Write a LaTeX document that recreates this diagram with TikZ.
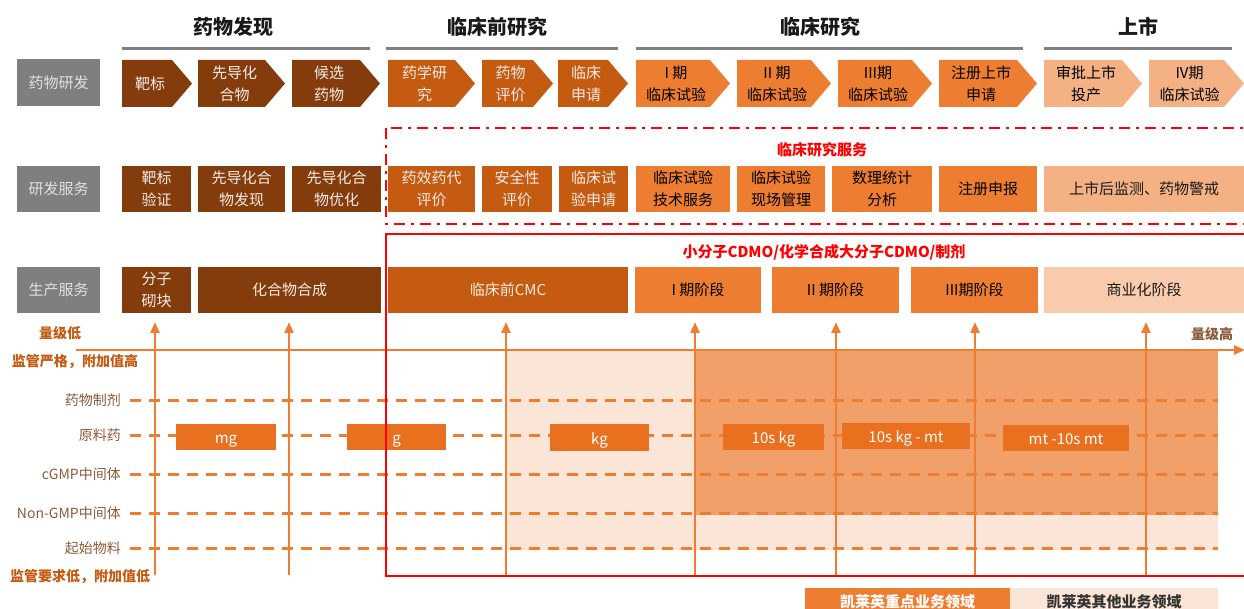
\documentclass[tikz,border=0pt]{standalone}
\usepackage{fontspec}
\setmainfont{Noto Sans CJK SC}
\usetikzlibrary{arrows.meta}
\definecolor{cBrown}{HTML}{843C0C}
\definecolor{cMid}{HTML}{C55A11}
\definecolor{cOrange}{HTML}{ED7D31}
\definecolor{cPeach}{HTML}{F4B183}
\definecolor{cPeachL}{HTML}{F8CBAD}
\definecolor{cGray}{HTML}{7F7F7F}
\definecolor{cShadeL}{HTML}{FBE5D6}
\definecolor{cShadeD}{HTML}{F1A06A}
\definecolor{cUnit}{HTML}{E8701E}
\definecolor{cLabel}{HTML}{8A5A3A}
\definecolor{cWarm}{HTML}{C55A11}
\definecolor{cWhiteT}{HTML}{F5ECE6}
\newcommand\mkbox[7]{\node[boxbase,#6,minimum width={#4-#2},minimum height={#5-#3},anchor=north west] (#1) at (#2,#3) {#7};}
\newcommand\mkchev[6]{%
  \fill[#4] (#2,60) -- ({#3-20},60) -- (#3,83.5) -- ({#3-20},107) -- (#2,107) -- cycle;
  \node[boxbase,text=#5] (#1) at ({(#2+#3-14)/2},83.5) {#6};}
\tikzset{
  boxbase/.style={inner sep=0pt,outer sep=0pt,align=center,font=\fontsize{15}{22}\selectfont},
  graybox/.style={fill=cGray,text=white!88!black},
  brownbox/.style={fill=cBrown,text=cWhiteT},
  midbox/.style={fill=cMid,text=cWhiteT},
  orangebox/.style={fill=cOrange,text=black},
  peachbox/.style={fill=cPeach,text=black!90},
  peachlbox/.style={fill=cPeachL,text=black!90},
  unitbox/.style={fill=cUnit,text=white,text height=13pt,text depth=0pt,font=\fontsize{15}{18}\selectfont},
  header/.style={font=\fontsize{20}{24}\selectfont\bfseries,text=black!90},
  hline/.style={draw=cGray,line width=3pt},
  rowlab/.style={anchor=east,inner sep=0pt,text=cLabel,font=\fontsize{14}{16}\selectfont},
  warmlab/.style={inner sep=0pt,text=cWarm,font=\fontsize{14}{16}\selectfont\bfseries},
  redlab/.style={inner sep=0pt,text=red,font=\fontsize{15}{18}\selectfont\bfseries},
  dashline/.style={draw=cOrange,line width=3pt,dash pattern=on 11pt off 8pt},
  varrow/.style={draw=cOrange,line width=2.5pt,-{Triangle[length=11pt,width=9pt]}},
  redbox/.style={draw=red,line width=2.5pt},
  reddash/.style={draw=red,line width=2.5pt,dash pattern=on 11pt off 6pt on 3pt off 6pt},
}
\begin{document}
\begin{tikzpicture}[x=1pt,y=-1pt]
\useasboundingbox (0,0) rectangle (1244,609);
% shaded areas
\fill[cShadeL] (506,350) rectangle (1218,550);
\fill[cShadeD] (695,350) rectangle (1218,515);
% dashed grade lines and labels
\foreach \n/\y/\t in {d1/400/药物制剂,d2/435/原料药,d3/474/cGMP中间体,d4/513/Non-GMP中间体,d5/548/起始物料}{
  \coordinate (\n a) at (130,\y);
  \coordinate (\n b) at (1218,\y);
  \draw[dashline] (\n a) -- (\n b);
  \node[rowlab] (\n l) at (121,\y) {\t};
}
% unit boxes
\mkbox{u1}{176}{424}{276}{450}{unitbox}{mg}
\mkbox{u2}{347}{424}{446}{450}{unitbox}{g}
\mkbox{u3}{550}{424}{649}{451}{unitbox}{kg}
\mkbox{u4}{723}{424}{824}{450}{unitbox}{10s kg}
\mkbox{u5}{842}{423}{970}{449}{unitbox}{10s kg - mt}
\mkbox{u6}{1003}{425}{1129}{451}{unitbox}{mt -10s mt}
% vertical arrows
\foreach \i/\x in {1/155,2/289,3/506,4/695,5/836,6/975,7/1146}{
  \coordinate (v\i b) at (\x,575);
  \coordinate (v\i t) at (\x,322);
  \draw[varrow] (v\i b) -- (v\i t);
}
% horizontal axis
\coordinate (ax0) at (76,350);
\coordinate (ax1) at (1245,350);
\draw[varrow] (ax0) -- (ax1);
\node[warmlab] (q1) at (60,333) {量级低};
\node[warmlab] (q2) at (75,362) {监管严格，附加值高};
\node[warmlab] (q3) at (80,577) {监管要求低，附加值低};
\node[warmlab,text=cLabel] (q4) at (1212,334) {量级高};
% red frames
\coordinate (rd1) at (386,128);
\coordinate (rd2) at (1260,224);
\draw[reddash] (rd1) rectangle (rd2);
\coordinate (rs1) at (386,234);
\coordinate (rs2) at (1260,576);
\draw[redbox] (rs1) rectangle (rs2);
\node[redlab] (t1) at (822,150) {临床研究服务};
\node[redlab] (t2) at (824,252) {小分子CDMO/化学合成大分子CDMO/制剂};
% headers
\node[header] (h1) at (233,27) {药物发现};
\node[header] (h2) at (497,27) {临床前研究};
\node[header] (h3) at (820,27) {临床研究};
\node[header] (h4) at (1138,27) {上市};
\draw[hline] (122,49) -- (370,49);
\draw[hline] (386,49) -- (618,49);
\draw[hline] (636,49) -- (1023,49);
\draw[hline] (1044,49) -- (1232,49);
% row labels
\mkbox{g1}{17}{59}{100}{106}{graybox}{药物研发}
\mkbox{g2}{17}{166}{100}{212}{graybox}{研发服务}
\mkbox{g3}{17}{267}{100}{313}{graybox}{生产服务}
% row 1 chevrons
\mkchev{c1}{122}{192}{cBrown}{cWhiteT}{靶标}
\mkchev{c2}{198}{285}{cBrown}{cWhiteT}{先导化\\合物}
\mkchev{c3}{292}{380}{cBrown}{cWhiteT}{候选\\药物}
\mkchev{c4}{388}{475}{cMid}{cWhiteT}{药学研\\究}
\mkchev{c5}{482}{553}{cMid}{cWhiteT}{药物\\评价}
\mkchev{c6}{558}{628}{cMid}{cWhiteT}{临床\\申请}
\mkchev{c7}{636}{730}{cOrange}{black}{I 期\\临床试验}
\mkchev{c8}{737}{831}{cOrange}{black}{II 期\\临床试验}
\mkchev{c9}{838}{932}{cOrange}{black}{III期\\临床试验}
\mkchev{c10}{939}{1037}{cOrange}{black}{注册上市\\申请}
\mkchev{c11}{1044}{1142}{cPeach}{black}{审批上市\\投产}
\mkchev{c12}{1149}{1244}{cPeach}{black}{IV期\\临床试验}
% row 2 boxes
\mkbox{s1}{122}{166}{191}{212}{brownbox}{靶标\\验证}
\mkbox{s2}{198}{166}{285}{212}{brownbox}{先导化合\\物发现}
\mkbox{s3}{292}{166}{381}{212}{brownbox}{先导化合\\物优化}
\mkbox{s4}{388}{166}{475}{212}{midbox}{药效药代\\评价}
\mkbox{s5}{482}{166}{552}{212}{midbox}{安全性\\评价}
\mkbox{s6}{559}{166}{628}{212}{midbox}{临床试\\验申请}
\mkbox{s7}{636}{166}{730}{212}{orangebox}{临床试验\\技术服务}
\mkbox{s8}{737}{166}{825}{212}{orangebox}{临床试验\\现场管理}
\mkbox{s9}{832}{166}{932}{212}{orangebox}{数理统计\\分析}
\mkbox{s10}{939}{166}{1037}{212}{orangebox}{注册申报}
\mkbox{s11}{1044}{166}{1244}{212}{peachbox}{上市后监测、药物警戒}
% row 3 boxes
\mkbox{p1}{122}{267}{191}{313}{brownbox}{分子\\砌块}
\mkbox{p2}{198}{267}{381}{313}{brownbox}{化合物合成}
\mkbox{p3}{388}{267}{628}{313}{midbox}{临床前CMC}
\mkbox{p4}{635}{267}{761}{313}{orangebox}{I 期阶段}
\mkbox{p5}{772}{267}{899}{313}{orangebox}{II 期阶段}
\mkbox{p6}{911}{267}{1038}{313}{orangebox}{III期阶段}
\mkbox{p7}{1044}{267}{1244}{313}{peachlbox}{商业化阶段}
% legend
\mkbox{lg1}{805}{588}{1010}{615}{fill=cOrange,text=white,font=\fontsize{15}{18}\selectfont\bfseries}{凯莱英重点业务领域}
\mkbox{lg2}{1010}{588}{1218}{615}{fill=cShadeL,text=black!80,font=\fontsize{15}{18}\selectfont\bfseries}{凯莱英其他业务领域}
\end{tikzpicture}
\end{document}
